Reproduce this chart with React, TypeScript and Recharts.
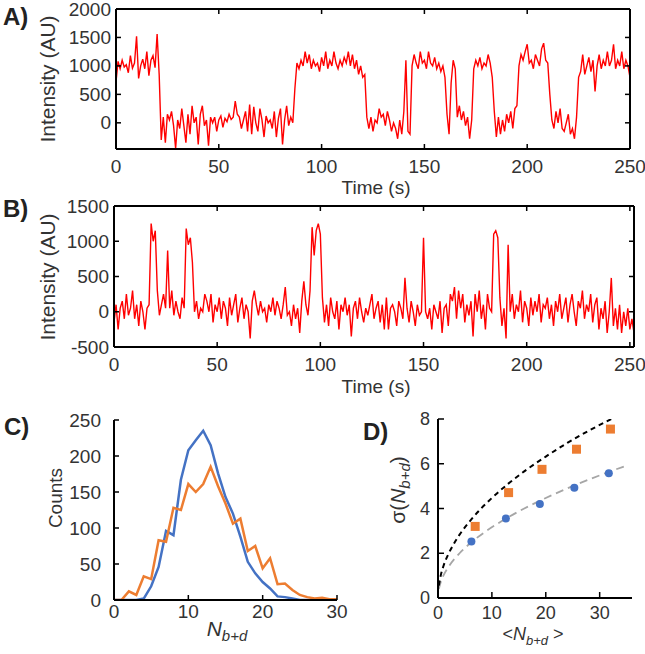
import React from 'react';
import { LineChart, Line, XAxis, YAxis, ComposedChart, Scatter } from 'recharts';

const FONT = '"Liberation Sans", Arial, sans-serif';
const INK = '#333';
const RED = '#ff0000';
const BLUE = '#4472c4';
const ORANGE = '#ed7d31';

// A) intensity trace, one value per second (0..250 s)
const traceA = [
  720, 1080, 950, 1100, 980, 1020, 880, 1180, 960, 1050,
  1520, 780, 1000, 1120, 950, 1250, 830, 1100, 1180, 970,
  1560, 850, -300, 100, -350, 150, 50, 200, -50, -450,
  50, -100, 250, -50, -350, 150, -200, 300, 0, 100,
  -380, 150, 300, -50, 50, -400, 100, 0, 100, -150,
  50, 120, -80, 80, 20, 150, 60, 100, 380, 150,
  100, -100, 50, 200, -150, 320, -200, 280, 0, -150,
  250, 50, -250, 120, 0, 50, -100, 200, -250, 80,
  250, -380, 50, 300, -50, 100, 0, 600, 1050, 950,
  1100, 1000, 1250, 1050, 1200, 950, 1100, 1000, 1050, 900,
  1150, 1000, 1250, 950, 1100, 1000, 1250, 1050, 950, 1100,
  1000, 1150, 1050, 1250, 1000, 1200, 950, 1100, 850, 1000,
  800, 850, 100, -100, 100, -150, 50, 0, 250, 100,
  150, -50, 200, 50, -150, 0, -100, -280, 50, -200,
  200, 1100, -150, -200, 1000, 1200, 1050, 950, 1250, 1050,
  1100, 950, 1250, 1050, 1000, 1150, 950, 1050, 900, 1000,
  800, 150, -200, 700, 1100, 950, 100, 300, 50, 200,
  -50, 100, -280, 50, 950, 1100, 1000, 1150, 950, 1050,
  1000, 1200, 1050, 800, 200, -250, 100, -200, 50, -150,
  150, 0, 200, -100, 250, 300, 1000, 1200, 1100, 1250,
  1380, 1050, 1100, 950, 1200, 1100, 1000, 1300, 1400, 1100,
  1050, 500, 50, -100, 200, 0, 250, -100, -150, 0,
  150, -200, -100, -280, 100, 800, 900, 1200, 850, 1000,
  1150, 900, 1100, 550, 1000, 1200, 950, 1100, 1000, 1250,
  1000, 1100, 1380, 950, 1100, 1000, 1250, 950, 1100, 1000, 800,
];

// B) intensity trace, one value per second (0..252 s)
const traceB = [
  -150, 100, -250, 50, 150, -100, 250, -50, 50, 300,
  -100, 100, -200, 150, 0, -250, 50, 100, 1250, 1000,
  1150, 300, -50, 100, 250, 50, 870, 50, 300, -50,
  150, 0, -100, 200, 50, 1180, 950, 1050, 700, 0,
  150, -100, 50, 0, 250, 150, 0, 250, -150, 100,
  0, 200, -100, 150, 50, -200, 200, -50, 100, 250,
  -150, 50, 200, -100, 100, 0, -380, 150, 300, 100,
  -50, 150, 0, 50, -150, 100, 0, 200, -50, 150,
  50, -100, 100, 350, -50, 0, -200, 100, -100, 50,
  -300, 150, 430, 100, -50, 300, 1200, 800, 1150, 1250,
  1100, 200, -150, 100, -200, 200, 0, -100, 150, -250,
  100, 0, 200, -50, 100, -350, 50, 150, -100, 200,
  0, -150, 50, -50, 100, 250, -100, 50, 150, -150,
  100, -250, 200, -250, 50, 100, 0, -200, 150, 50,
  -100, 480, 50, -150, 150, 0, -200, 100, -50, 0,
  1050, 0, -100, 50, -250, 100, 0, -100, 150, -300,
  50, 100, -200, 250, 150, 350, -100, 300, 50, 250,
  -150, 100, -50, 150, -350, 250, 0, 300, -100, 100,
  -250, 250, 50, 0, 1100, 1150, 1050, 200, -200, 50,
  -380, 950, 0, 250, -100, 100, 0, 300, -150, 150,
  50, -200, 200, -50, 150, 0, 250, -150, 100, 50,
  200, -100, 100, -200, 150, 0, 250, -100, 50, 200,
  -150, 100, 250, 0, -200, 150, 50, 300, -100, 100,
  0, 250, -150, 100, 200, -250, 50, -100, 150, -300,
  0, 480, -200, 50, -250, 100, -300, 0, -200, 50, -250, -100, -300,
];

const timeTicks = [0, 50, 100, 150, 200, 250];
const intensityTicksA = [0, 500, 1000, 1500, 2000];
const intensityTicksB = [-500, 0, 500, 1000, 1500];

// C) histogram of N_b+d
const nBins = [0, 1, 2, 3, 4, 5, 6, 7, 8, 9, 10, 11, 12, 13, 14, 15, 16, 17, 18, 19, 20, 21, 22, 23, 24, 25, 26, 27, 28, 29, 30];
const countsBlue = [0, 0, 0, 0, 2, 19, 46, 96, 90, 167, 208, 222, 235, 215, 176, 143, 120, 88, 53, 37, 25, 16, 5, 4, 2, 0, 0, 0, 0, 0, 0];
const countsOrange = [0, 0, 12, 7, 33, 29, 83, 81, 128, 125, 161, 150, 161, 185, 158, 134, 106, 113, 68, 75, 44, 58, 22, 23, 14, 7, 4, 2, 3, 1, 1];
const countTicks = [0, 50, 100, 150, 200, 250];
const nTicks = [0, 10, 20, 30];

// D) sigma vs mean
const meanBlue = [6.2, 12.6, 18.9, 25.3, 31.7];
const sigmaBlue = [2.52, 3.55, 4.2, 4.93, 5.57];
const meanOrange = [6.9, 13.1, 19.3, 25.7, 32.0];
const sigmaOrange = [3.2, 4.71, 5.75, 6.65, 7.55];
const fitBlackX = [0.15, 0.5, 1, 2, 3, 4, 6, 8, 10, 13, 16, 20, 24, 28, 33];
const fitBlackY = [0.55, 1.0, 1.42, 2.0, 2.45, 2.83, 3.46, 4.0, 4.47, 5.1, 5.66, 6.32, 6.93, 7.48, 8.1];
const fitGreyX = [0.15, 0.5, 1, 2, 4, 6, 9, 12, 16, 20, 25, 30, 35];
const fitGreyY = [0.4, 0.7, 1.0, 1.41, 2.0, 2.45, 3.0, 3.46, 4.0, 4.47, 5.0, 5.48, 5.92];
const sigmaTicks = [0, 2, 4, 6, 8];
const meanTicks = [0, 10, 20, 30];

const rowsA = traceA.map((v, i) => ({ t: i, v }));
const rowsB = traceB.map((v, i) => ({ t: i, v }));
const rowsC = nBins.map((n, i) => ({ n, blue: countsBlue[i], orange: countsOrange[i] }));
const pts = (xs: number[], ys: number[]) => xs.map((x, i) => ({ x, y: ys[i] }));

type Side = 'bottom' | 'left' | 'right' | 'top';

// ticks drawn inward, labels optional
const tickFn = (side: Side, show: boolean, len: number, gap: number, size: number) => (p: any) => {
  const { x, y, payload } = p;
  let line;
  let label = null;
  const txt = { fill: INK, stroke: 'none', fontFamily: FONT, fontSize: size };
  if (side === 'bottom') {
    line = <line x1={x} y1={y} x2={x} y2={y - len} />;
    if (show) label = <text x={x} y={y + gap} textAnchor="middle" dominantBaseline="central" {...txt}>{payload.value}</text>;
  } else if (side === 'top') {
    line = <line x1={x} y1={y} x2={x} y2={y + len} />;
  } else if (side === 'left') {
    line = <line x1={x} y1={y} x2={x + len} y2={y} />;
    if (show) label = <text x={x - gap} y={y} textAnchor="end" dominantBaseline="central" {...txt}>{payload.value}</text>;
  } else {
    line = <line x1={x} y1={y} x2={x - len} y2={y} />;
  }
  return (
    <g stroke="#000" strokeWidth={1.5}>
      {line}
      {label}
    </g>
  );
};

const AX = { stroke: '#000', strokeWidth: 2 };

const TracePanel = ({ rows, xMax, yDomain, yTicks, top, margin }: any) => (
  <div style={{ position: 'absolute', left: 0, top }}>
    <LineChart width={645} height={210} data={rows} margin={margin}>
      <XAxis xAxisId="b" dataKey="t" type="number" domain={[0, xMax]} ticks={timeTicks} interval={0}
        allowDataOverflow tickSize={0} tickMargin={0} tickLine={false} axisLine={AX} height={30}
        tick={tickFn('bottom', true, 5, 17, 19)} />
      <XAxis xAxisId="t" orientation="top" dataKey="t" type="number" domain={[0, xMax]} ticks={timeTicks} interval={0}
        allowDataOverflow tickSize={0} tickMargin={0} tickLine={false} axisLine={AX} height={1}
        tick={tickFn('top', false, 5, 0, 19)} />
      <YAxis yAxisId="l" type="number" domain={yDomain} ticks={yTicks} interval={0} allowDataOverflow
        tickSize={0} tickMargin={0} tickLine={false} axisLine={AX} width={60}
        tick={tickFn('left', true, 5, 5, 19)} />
      <YAxis yAxisId="r" orientation="right" type="number" domain={yDomain} ticks={yTicks} interval={0} allowDataOverflow
        tickSize={0} tickMargin={0} tickLine={false} axisLine={AX} width={1}
        tick={tickFn('right', false, 5, 0, 19)} />
      <Line xAxisId="b" yAxisId="l" dataKey="v" type="linear" stroke={RED} strokeWidth={1.4} dot={false}
        isAnimationActive={false} />
    </LineChart>
  </div>
);

const Sub = ({ before, after, sub }: { before?: string; after?: string; sub: number }) => (
  <>
    {before ? <tspan>{before}</tspan> : null}
    <tspan fontStyle="italic">N</tspan>
    <tspan fontStyle="italic" fontSize={sub} dy={5}>b+d</tspan>
    {after ? <tspan dy={-5}>{after}</tspan> : null}
  </>
);

export default function App() {
  const t19 = { fontFamily: FONT, fontSize: 19, fill: INK };
  const tag = { fontFamily: FONT, fontSize: 24, fontWeight: 700, fill: '#222' };
  return (
    <div style={{ position: 'absolute', left: 0, top: 0, width: 645, height: 654, background: '#fff', overflow: 'hidden' }}>
      <TracePanel rows={rowsA} xMax={250} yDomain={[-460, 2000]} yTicks={intensityTicksA} top={0}
        margin={{ top: 8, right: 14, bottom: 31, left: 56 }} />
      <TracePanel rows={rowsB} xMax={252} yDomain={[-500, 1500]} yTicks={intensityTicksB} top={195}
        margin={{ top: 10, right: 10, bottom: 28, left: 54 }} />

      <div style={{ position: 'absolute', left: 0, top: 380 }}>
        <LineChart width={360} height={274} data={rowsC} margin={{ top: 40, right: 23, bottom: 24, left: 54 }}>
          <XAxis dataKey="n" type="number" domain={[0, 30]} ticks={nTicks} interval={0} allowDataOverflow
            tickSize={0} tickMargin={0} tickLine={false} axisLine={AX} height={30}
            tick={tickFn('bottom', true, 5, 11, 19)} />
          <YAxis type="number" domain={[0, 250]} ticks={countTicks} interval={0} allowDataOverflow
            tickSize={0} tickMargin={0} tickLine={false} axisLine={AX} width={60}
            tick={tickFn('left', true, 5, 13, 19)} />
          <Line dataKey="blue" type="linear" stroke={BLUE} strokeWidth={2.5} dot={false} isAnimationActive={false} />
          <Line dataKey="orange" type="linear" stroke={ORANGE} strokeWidth={2.5} dot={false} isAnimationActive={false} />
        </LineChart>
      </div>

      <div style={{ position: 'absolute', left: 340, top: 380 }}>
        <ComposedChart width={305} height={274} margin={{ top: 39, right: 13, bottom: 26, left: 38 }}>
          <XAxis dataKey="x" type="number" domain={[0, 36]} ticks={meanTicks} interval={0} allowDataOverflow
            tickSize={0} tickMargin={0} tickLine={false} axisLine={AX} height={30}
            tick={tickFn('bottom', true, 6, 15, 18)} />
          <YAxis dataKey="y" type="number" domain={[0, 8]} ticks={sigmaTicks} interval={0} allowDataOverflow
            tickSize={0} tickMargin={0} tickLine={false} axisLine={AX} width={60}
            tick={tickFn('left', true, 6, 8, 18)} />
          <Line data={pts(fitGreyX, fitGreyY)} dataKey="y" type="monotone" stroke="#a6a6a6" strokeWidth={1.8}
            strokeDasharray="8 5" dot={false} isAnimationActive={false} />
          <Line data={pts(fitBlackX, fitBlackY)} dataKey="y" type="monotone" stroke="#000" strokeWidth={2}
            strokeDasharray="5 4" dot={false} isAnimationActive={false} />
          <Scatter data={pts(meanBlue, sigmaBlue)} isAnimationActive={false}
            shape={(p: any) => <circle cx={p.cx} cy={p.cy} r={4} fill={BLUE} />} />
          <Scatter data={pts(meanOrange, sigmaOrange)} isAnimationActive={false}
            shape={(p: any) => <rect x={p.cx - 4.5} y={p.cy - 4.5} width={9} height={9} fill={ORANGE} />} />
        </ComposedChart>
      </div>

      <svg width={645} height={654} style={{ position: 'absolute', left: 0, top: 0, pointerEvents: 'none' }}>
        <text x={3} y={25} {...tag}>A)</text>
        <text x={3} y={217} {...tag}>B)</text>
        <text x={4} y={435} {...tag}>C)</text>
        <text x={363} y={440} {...tag}>D)</text>

        <text x={47} y={79} transform="rotate(-90 47 79)" textAnchor="middle" dominantBaseline="central" {...t19} fontSize={21}>Intensity (AU)</text>
        <text x={47} y={277} transform="rotate(-90 47 277)" textAnchor="middle" dominantBaseline="central" {...t19} fontSize={21}>Intensity (AU)</text>
        <text x={376} y={187} textAnchor="middle" dominantBaseline="central" {...t19}>Time (s)</text>
        <text x={376} y={386} textAnchor="middle" dominantBaseline="central" {...t19}>Time (s)</text>

        <text x={55} y={498} transform="rotate(-90 55 498)" textAnchor="middle" dominantBaseline="central" {...t19}>Counts</text>
        <text x={227} y={636} textAnchor="middle" {...t19} fontSize={21}><Sub sub={15} /></text>

        <text x={405} y={490} transform="rotate(-90 405 490)" textAnchor="middle" {...t19} fontSize={21}>
          <Sub before="σ(" after=")" sub={15} />
        </text>
        <text x={533} y={640} textAnchor="middle" {...t19} fontSize={18}><Sub before="<" after=" >" sub={13} /></text>
      </svg>
    </div>
  );
}
